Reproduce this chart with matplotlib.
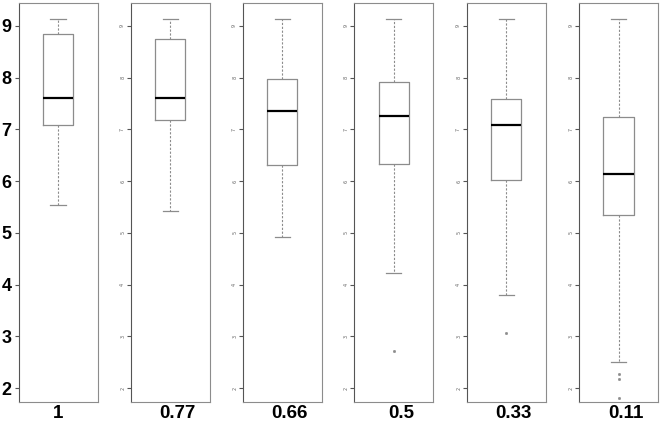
import numpy as np
import matplotlib.pyplot as plt
import matplotlib.transforms as mtransforms

# valores (un panel por cada proporcion)
etiquetas = ['1', '0.77', '0.66', '0.5', '0.33', '0.11']
whis_alto = [9.14, 9.14, 9.14, 9.14, 9.14, 9.14]
q3 = [8.85, 8.75, 7.97, 7.91, 7.58, 7.24]
mediana = [7.60, 7.60, 7.36, 7.26, 7.08, 6.14]
q1 = [7.09, 7.17, 6.30, 6.32, 6.02, 5.34]
whis_bajo = [5.54, 5.43, 4.92, 4.22, 3.80, 2.51]
atipicos = [[], [], [], [2.72], [3.06], [2.28, 2.17, 1.81]]

gris = '#8c8c8c'
fig = plt.figure(figsize=(6.62, 4.23), dpi=100)

izq = [18.5, 130.7, 242.7, 354.3, 466.7, 579.0]
for i, lab in enumerate(etiquetas):
    ax = fig.add_axes([izq[i] / 662, 21 / 423, 79 / 662, 399 / 423])
    stats = [dict(med=mediana[i], q1=q1[i], q3=q3[i], whislo=whis_bajo[i],
                  whishi=whis_alto[i], fliers=atipicos[i])]
    ax.bxp(stats, positions=[1], widths=0.38,
           boxprops=dict(color=gris, lw=0.9),
           medianprops=dict(color='black', lw=1.6),
           whiskerprops=dict(color=gris, lw=0.8, linestyle=(0, (2, 1.5))),
           capprops=dict(color=gris, lw=0.9),
           flierprops=dict(marker='o', markersize=1.6, markerfacecolor=gris,
                           markeredgecolor=gris, markeredgewidth=0.5))
    ax.set_xlim(0.5, 1.5)
    ax.set_ylim(1.73, 9.44)
    ax.set_yticks(range(2, 10))
    ax.set_xticks([1])
    ax.set_xticklabels([lab], fontsize=13.5, fontweight='bold', family='Liberation Sans')
    ax.tick_params(axis='x', length=0, pad=2)
    for s in ax.spines.values():
        s.set_color(gris)
    ax.spines['left'].set_color('#555555')
    if i == 0:
        ax.tick_params(axis='y', length=3, color='#555555', pad=2)
        for t in ax.get_yticklabels():
            t.set_fontsize(13)
            t.set_fontweight('bold')
            t.set_family('Liberation Sans')
    else:
        ax.tick_params(axis='y', length=3, color='#555555', pad=1, labelsize=3.5,
                       labelcolor='#666666')
        for t in ax.get_yticklabels():
            t.set_rotation(90)
            t.set_va('center')
        desp = mtransforms.ScaledTranslation(7 / 100, 0, fig.dpi_scale_trans)
        for t in ax.get_xticklabels():
            t.set_transform(t.get_transform() + desp)

fig.savefig('out.png', dpi=100)
